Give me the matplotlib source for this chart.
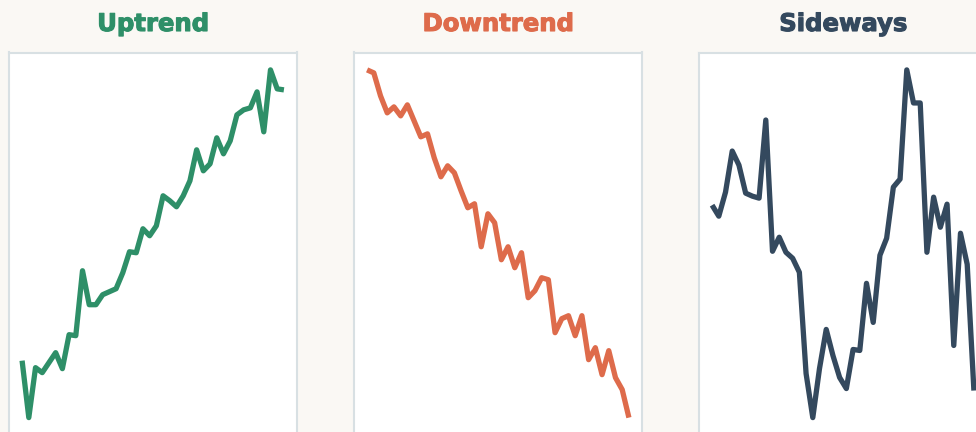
import matplotlib
matplotlib.use("Agg")
import matplotlib.pyplot as plt
import matplotlib.patheffects as pe

# price-like values (40 sessions each)
titles = ["Uptrend", "Downtrend", "Sideways"]
colors = ["#2e8f68", "#de6b4b", "#34495e"]

uptrend = [80, 23, 73, 68, 78, 88, 72, 106, 105, 170,
           136, 136, 146, 149, 152, 168, 189, 188, 212, 205,
           215, 245, 240, 234, 245, 260, 291, 270, 277, 303,
           287, 300, 326, 331, 333, 349, 309, 371, 352, 351]
downtrend = [371, 368, 345, 328, 334, 325, 336, 320, 304, 307,
             283, 264, 275, 268, 250, 233, 237, 194, 227, 218,
             181, 194, 173, 188, 143, 150, 163, 161, 108, 122,
             125, 105, 125, 81, 93, 66, 90, 63, 51, 23]
sideways = [235, 224, 248, 289, 275, 247, 244, 242, 320, 189,
            203, 188, 182, 168, 67, 23, 72, 111, 85, 63,
            52, 91, 90, 157, 118, 185, 202, 253, 261, 370,
            337, 337, 188, 243, 213, 236, 95, 207, 176, 50]
series = [uptrend, downtrend, sideways]

W, H = 976, 432
fig = plt.figure(figsize=(W / 100, H / 100), dpi=100)
fig.patch.set_facecolor("#faf8f4")

lefts = [9, 354, 699]
box_w, box_top, box_bottom = 288, 52.5, 435

for left, title, color, vals in zip(lefts, titles, colors, series):
    ax = fig.add_axes([left / W, 1 - box_bottom / H, box_w / W, (box_bottom - box_top) / H])
    ax.set_facecolor("white")
    ax.plot(range(len(vals)), vals, color=color, lw=3.8,
            solid_joinstyle="round", solid_capstyle="butt")
    ax.margins(x=0.05, y=0.05)
    ax.set_xticks([])
    ax.set_yticks([])
    for sp in ax.spines.values():
        sp.set_color("#d8e0e3")
        sp.set_linewidth(1.5)
    txt = fig.text((left + box_w / 2) / W, 1 - 31 / H, title, color=color,
                   ha="center", va="baseline", fontsize=17.5, fontweight="bold",
                   family="DejaVu Sans")
    # a thin outline makes the heading a bit heavier, like the reference
    txt.set_path_effects([pe.withStroke(linewidth=0.8, foreground=color)])

fig.savefig("out.png", dpi=100, facecolor=fig.get_facecolor())
